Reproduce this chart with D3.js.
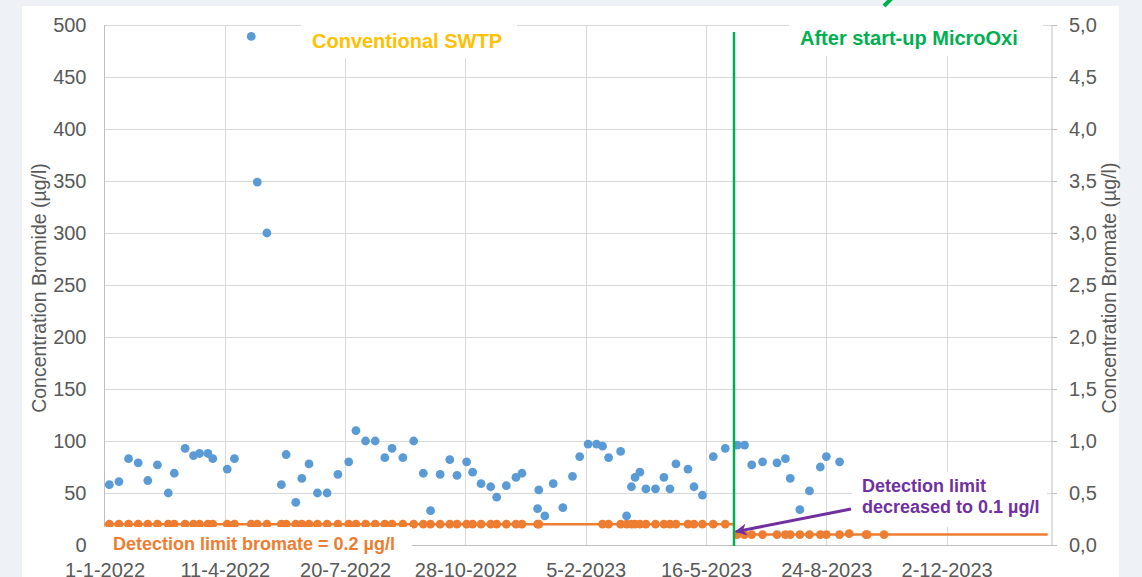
<!DOCTYPE html>
<html>
<head>
<meta charset="utf-8">
<script src="https://cdn.jsdelivr.net/npm/d3@7"></script>
<style>
body { margin: 0; background: #eef2f6; }
text { font-family: "Liberation Sans", Arial, sans-serif; }
</style>
</head>
<body>
<script>

// bromide (left axis, µg/l)
var bromideDates = ["2022-01-05","2022-01-13","2022-01-21","2022-01-29","2022-02-06","2022-02-14","2022-02-23","2022-02-28","2022-03-09","2022-03-16",
  "2022-03-21","2022-03-28","2022-04-01","2022-04-13","2022-04-19","2022-05-03","2022-05-08","2022-05-16","2022-05-28","2022-06-01",
  "2022-06-09","2022-06-14","2022-06-20","2022-06-27","2022-07-05","2022-07-14","2022-07-23","2022-07-29","2022-08-06","2022-08-14",
  "2022-08-22","2022-08-28","2022-09-06","2022-09-15","2022-09-23","2022-09-29","2022-10-07","2022-10-15","2022-10-21","2022-10-29",
  "2022-11-03","2022-11-10","2022-11-18","2022-11-23","2022-12-01","2022-12-09","2022-12-14","2022-12-27","2022-12-28","2023-01-02",
  "2023-01-09","2023-01-17","2023-01-25","2023-01-31","2023-02-07","2023-02-14","2023-02-19","2023-02-24","2023-03-06","2023-03-11",
  "2023-03-15","2023-03-18","2023-03-22","2023-03-27","2023-04-04","2023-04-11","2023-04-16","2023-04-21","2023-05-01","2023-05-06",
  "2023-05-13","2023-05-22","2023-06-01","2023-06-11","2023-06-17","2023-06-23","2023-07-02","2023-07-14","2023-07-21","2023-07-25",
  "2023-08-02","2023-08-10","2023-08-19","2023-08-24","2023-09-04"];
var bromideValues = [58,61,83,79,62,77,50,69,93,86,
  88,88,83,73,83,489,349,300,58,87,
  41,64,78,50,50,68,80,110,100,100,
  84,93,84,100,69,33,68,82,67,80,
  70,59,56,46,57,65,69,35,53,28,
  59,36,66,85,97,97,95,84,90,28,
  56,65,70,54,54,65,54,78,73,56,
  48,85,93,96,96,77,80,79,83,64,
  34,52,75,85,80];

// bromate (right axis, µg/l) - all at detection limit
var bromateDates = ["2022-01-05","2022-01-13","2022-01-21","2022-01-29","2022-02-06","2022-02-14","2022-02-23","2022-02-28","2022-03-09","2022-03-16",
  "2022-03-21","2022-03-28","2022-04-01","2022-04-13","2022-04-19","2022-05-03","2022-05-08","2022-05-16","2022-05-28","2022-06-01",
  "2022-06-09","2022-06-14","2022-06-20","2022-06-27","2022-07-05","2022-07-14","2022-07-23","2022-07-29","2022-08-06","2022-08-14",
  "2022-08-22","2022-08-28","2022-09-06","2022-09-15","2022-09-23","2022-09-29","2022-10-07","2022-10-15","2022-10-21","2022-10-29",
  "2022-11-03","2022-11-10","2022-11-18","2022-11-23","2022-12-01","2022-12-09","2022-12-14","2022-12-27","2022-12-28",
  "2023-02-19","2023-02-24","2023-03-06","2023-03-11","2023-03-15","2023-03-18","2023-03-22","2023-03-27","2023-04-04","2023-04-11",
  "2023-04-16","2023-04-21","2023-05-01","2023-05-06","2023-05-13","2023-05-22","2023-06-01",
  "2023-06-11","2023-06-17","2023-06-23","2023-07-02","2023-07-14","2023-07-21","2023-07-25","2023-08-02","2023-08-10","2023-08-19",
  "2023-08-24","2023-09-04","2023-09-12","2023-09-26","2023-09-27","2023-10-11"];
var bromateValues = [0.2,0.2,0.2,0.2,0.2,0.2,0.2,0.2,0.2,0.2,
  0.2,0.2,0.2,0.2,0.2,0.2,0.2,0.2,0.2,0.2,
  0.2,0.2,0.2,0.2,0.2,0.2,0.2,0.2,0.2,0.2,
  0.2,0.2,0.2,0.2,0.2,0.2,0.2,0.2,0.2,0.2,
  0.2,0.2,0.2,0.2,0.2,0.2,0.2,0.2,0.2,
  0.2,0.2,0.2,0.2,0.2,0.2,0.2,0.2,0.2,0.2,
  0.2,0.2,0.2,0.2,0.2,0.2,0.2,
  0.1,0.1,0.1,0.1,0.1,0.1,0.1,0.1,0.1,0.1,
  0.1,0.1,0.11,0.1,0.1,0.1];

// detection limit lines
var limitOldDates = ["2022-01-01","2023-06-08"];
var limitOldValues = [0.2,0.2];
var limitNewDates = ["2023-06-08","2024-02-24"];
var limitNewValues = [0.1,0.1];

var startupDate = "2023-06-08";

var xTickLabels = ["1-1-2022","11-4-2022","20-7-2022","28-10-2022","5-2-2023","16-5-2023","24-8-2023","2-12-2023"];
var leftTicks = [0,50,100,150,200,250,300,350,400,450,500];
var rightTicks = [0,0.5,1,1.5,2,2.5,3,3.5,4,4.5,5];

var W = 1142, H = 577;
var plotL = 104.5, plotR = 1052.5, plotT = 25, plotB = 545;

var parseISO = d3.utcParse("%Y-%m-%d");
var parseTick = d3.utcParse("%d-%m-%Y");

var xStart = parseISO("2022-01-01");
var xEnd = d3.utcDay.offset(xStart, 788);

var x = d3.scaleUtc().domain([xStart, xEnd]).range([plotL, plotR]);
var yL = d3.scaleLinear().domain([0, 500]).range([plotB, plotT]);
var yR = d3.scaleLinear().domain([0, 5]).range([plotB, plotT]);

var svg = d3.select("body").append("svg")
  .attr("width", W)
  .attr("height", H)
  .style("display", "block");

// chart area
svg.append("rect")
  .attr("x", 22).attr("y", 6)
  .attr("width", 1097).attr("height", H - 6)
  .attr("fill", "#fff");

// green arrow from outside the chart (only a stub is visible)
svg.append("line")
  .attr("x1", 884).attr("y1", 6)
  .attr("x2", 894).attr("y2", -4)
  .attr("stroke", "#00b050")
  .attr("stroke-width", 4);

var xTicks = xTickLabels.map(function(s) { return parseTick(s); });

// gridlines
var grid = svg.append("g").attr("stroke", "#d9d9d9").attr("stroke-width", 1);
grid.selectAll(".h")
  .data(leftTicks.slice(1))
  .enter().append("line")
  .attr("x1", plotL).attr("x2", plotR)
  .attr("y1", function(d) { return Math.round(yL(d)) + 0.5; })
  .attr("y2", function(d) { return Math.round(yL(d)) + 0.5; });
grid.selectAll(".v")
  .data(xTicks.slice(1))
  .enter().append("line")
  .attr("y1", plotT).attr("y2", plotB)
  .attr("x1", function(d) { return Math.round(x(d)) + 0.5; })
  .attr("x2", function(d) { return Math.round(x(d)) + 0.5; });

// axes
var fmtX = d3.utcFormat("%-d-%-m-%Y");

var xAxis = svg.append("g")
  .attr("transform", "translate(0," + (plotB + 0.5) + ")")
  .call(d3.axisBottom(x).tickValues(xTicks).tickFormat(fmtX).tickSize(0).tickPadding(0));
xAxis.select(".domain").attr("stroke", "#bfbfbf").attr("d", "M" + plotL + ",0H" + plotR);
xAxis.selectAll("text")
  .attr("y", 31).attr("dy", 0)
  .attr("fill", "#595959")
  .style("font-size", "20px")
  .style("font-family", "'Liberation Sans', Arial, sans-serif");

var leftAxis = svg.append("g")
  .attr("transform", "translate(" + plotL + ",0)")
  .call(d3.axisLeft(yL).tickValues(leftTicks).tickSize(0).tickPadding(18));
leftAxis.select(".domain").attr("stroke", "#bfbfbf").attr("d", "M0," + plotT + "V" + plotB);
leftAxis.selectAll("text")
  .attr("fill", "#595959")
  .style("font-size", "20px")
  .style("font-family", "'Liberation Sans', Arial, sans-serif");

var rightAxis = svg.append("g")
  .attr("transform", "translate(" + (plotR - 0.5) + ",0)")
  .call(d3.axisRight(yR).tickValues(rightTicks).tickSize(5).tickPadding(12)
    .tickFormat(function(d) { return d.toFixed(1).replace(".", ","); }));
rightAxis.select(".domain").attr("stroke", "#bfbfbf").attr("d", "M0," + plotT + "V" + plotB);
rightAxis.selectAll("line").attr("stroke", "#bfbfbf");
rightAxis.selectAll("text")
  .attr("fill", "#595959")
  .style("font-size", "20px")
  .style("font-family", "'Liberation Sans', Arial, sans-serif");

// axis titles
svg.append("text")
  .attr("transform", "translate(46," + ((plotT + plotB) / 2 + 3) + ") rotate(-90)")
  .attr("text-anchor", "middle")
  .attr("fill", "#595959")
  .style("font-size", "19.5px")
  .text("Concentration Bromide (µg/l)");

svg.append("text")
  .attr("transform", "translate(1116," + ((plotT + plotB) / 2 + 3) + ") rotate(-90)")
  .attr("text-anchor", "middle")
  .attr("fill", "#595959")
  .style("font-size", "19.5px")
  .text("Concentration Bromate (µg/l)");

// detection limit lines
var lineR = d3.line()
  .x(function(d) { return x(d.date); })
  .y(function(d) { return yR(d.value); });

function pairs(dates, values) {
  return dates.map(function(s, i) { return { date: parseISO(s), value: values[i] }; });
}

svg.append("path")
  .datum(pairs(limitOldDates, limitOldValues))
  .attr("d", lineR)
  .attr("fill", "none")
  .attr("stroke", "#ed7d31")
  .attr("stroke-width", 2.5);

svg.append("path")
  .datum(pairs(limitNewDates, limitNewValues))
  .attr("d", lineR)
  .attr("fill", "none")
  .attr("stroke", "#ed7d31")
  .attr("stroke-width", 2.5);

// bromate markers
svg.append("g").selectAll("circle")
  .data(pairs(bromateDates, bromateValues))
  .enter().append("circle")
  .attr("cx", function(d) { return x(d.date); })
  .attr("cy", function(d) { return yR(d.value); })
  .attr("r", 4.4)
  .attr("fill", "#ed7d31");

// bromide markers
svg.append("g").selectAll("circle")
  .data(pairs(bromideDates, bromideValues))
  .enter().append("circle")
  .attr("cx", function(d) { return x(d.date); })
  .attr("cy", function(d) { return yL(d.value); })
  .attr("r", 4.4)
  .attr("fill", "#5b9bd5");

// label boxes
svg.append("rect").attr("x", 301).attr("y", 24).attr("width", 216).attr("height", 34).attr("fill", "#fff");
svg.append("rect").attr("x", 789).attr("y", 24).attr("width", 254).attr("height", 32).attr("fill", "#fff");
svg.append("rect").attr("x", 100).attr("y", 527).attr("width", 312).attr("height", 34).attr("fill", "#fff");
svg.append("rect").attr("x", 852).attr("y", 472).attr("width", 195).attr("height", 55).attr("fill", "#fff");

svg.append("text")
  .attr("x", 312).attr("y", 48)
  .attr("fill", "#ffc000")
  .style("font-size", "20px").style("font-weight", "bold")
  .text("Conventional SWTP");

svg.append("text")
  .attr("x", 800).attr("y", 45)
  .attr("fill", "#00b050")
  .style("font-size", "20px").style("font-weight", "bold")
  .text("After start-up MicroOxi");

svg.append("text")
  .attr("x", 113).attr("y", 550)
  .attr("fill", "#ed7d31")
  .style("font-size", "18px").style("font-weight", "bold")
  .text("Detection limit bromate = 0.2 µg/l");

var note = svg.append("text")
  .attr("fill", "#7030a0")
  .style("font-size", "18px").style("font-weight", "bold");
note.append("tspan").attr("x", 862).attr("y", 492).text("Detection limit");
note.append("tspan").attr("x", 862).attr("y", 513).text("decreased to 0.1 µg/l");

// start-up line
var sx = Math.round(x(parseISO(startupDate)));
svg.append("line")
  .attr("x1", sx).attr("x2", sx)
  .attr("y1", 32).attr("y2", plotB + 1)
  .attr("stroke", "#00b050")
  .attr("stroke-width", 2.5);

// purple arrow
svg.append("defs").append("marker")
  .attr("id", "arrow")
  .attr("viewBox", "0 0 10 10")
  .attr("refX", 9).attr("refY", 5)
  .attr("markerWidth", 4).attr("markerHeight", 4)
  .attr("orient", "auto")
  .append("path")
  .attr("d", "M0,0L10,5L0,10L3,5Z")
  .attr("fill", "#7030a0");

svg.append("line")
  .attr("x1", 851).attr("y1", 509)
  .attr("x2", sx + 2).attr("y2", yR(0.1) - 3)
  .attr("stroke", "#7030a0")
  .attr("stroke-width", 3)
  .attr("marker-end", "url(#arrow)");

</script>
</body>
</html>
